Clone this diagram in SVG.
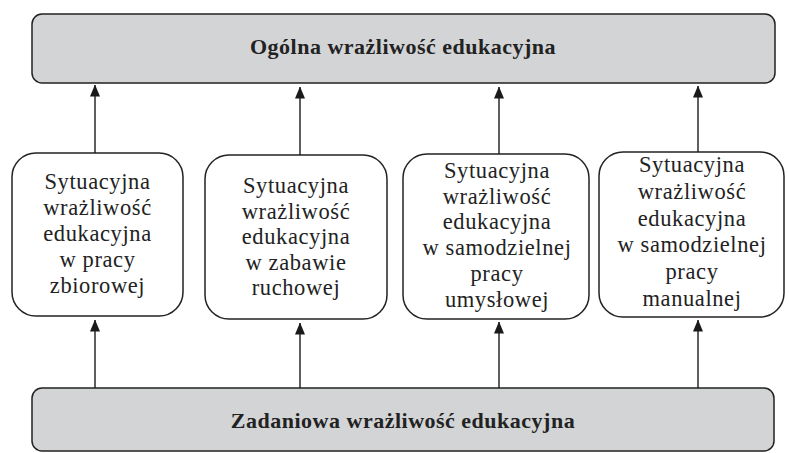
<svg xmlns="http://www.w3.org/2000/svg" width="789" height="453" viewBox="0 0 789 453">
<defs>
<marker id="ah" markerUnits="userSpaceOnUse" markerWidth="12" markerHeight="10" refX="11.5" refY="5" orient="auto" viewBox="0 0 12 10">
<path d="M0,0 L12,5 L0,10 z" fill="#1a1a1a"/>
</marker>
<style>
.main{fill:#d3d4d6;stroke:#222;stroke-width:1.5}
.sub{fill:#fff;stroke:#222;stroke-width:1.5}
.bt{font-family:'Liberation Serif','Times New Roman','DejaVu Serif',serif;font-weight:bold;font-size:22px;letter-spacing:0.5px;fill:#222;text-anchor:middle}
.t{font-family:'Liberation Serif','Times New Roman','DejaVu Serif',serif;font-size:22.5px;letter-spacing:0.6px;fill:#222;text-anchor:middle}
.c{stroke:#1a1a1a;stroke-width:1.4;fill:none;marker-end:url(#ah)}
</style>
</defs>
<rect width="789" height="453" fill="#fff"/>
<g id="top">
<rect class="main" x="32" y="14" width="743" height="69" rx="10"/>
<text class="bt" x="403" y="54" font-family="Liberation Serif, serif">Ogólna wrażliwość edukacyjna</text>
</g>
<g id="bottom">
<rect class="main" x="32" y="388" width="742" height="63" rx="10"/>
<text class="bt" x="403" y="428" font-family="Liberation Serif, serif">Zadaniowa wrażliwość edukacyjna</text>
</g>
<g id="n1">
<rect class="sub" x="12" y="153" width="171" height="163" rx="24"/>
<text class="t" x="97.5" font-family="Liberation Serif, serif"><tspan x="97.5" y="189">Sytuacyjna</tspan><tspan x="97.5" y="215">wrażliwość</tspan><tspan x="97.5" y="241">edukacyjna</tspan><tspan x="97.5" y="267">w pracy</tspan><tspan x="97.5" y="293">zbiorowej</tspan></text>
</g>
<g id="n2">
<rect class="sub" x="205" y="155" width="182" height="164" rx="24"/>
<text class="t" x="296" font-family="Liberation Serif, serif"><tspan x="296" y="193">Sytuacyjna</tspan><tspan x="296" y="218.5">wrażliwość</tspan><tspan x="296" y="244">edukacyjna</tspan><tspan x="296" y="269.5">w zabawie</tspan><tspan x="296" y="295">ruchowej</tspan></text>
</g>
<g id="n3">
<rect class="sub" x="403" y="154" width="186" height="165" rx="24"/>
<text class="t" x="497" font-family="Liberation Serif, serif"><tspan x="497" y="178">Sytuacyjna</tspan><tspan x="497" y="203.5">wrażliwość</tspan><tspan x="497" y="229">edukacyjna</tspan><tspan x="497" y="255">w samodzielnej</tspan><tspan x="497" y="281">pracy</tspan><tspan x="497" y="307">umysłowej</tspan></text>
</g>
<g id="n4">
<rect class="sub" x="599" y="152" width="185" height="165" rx="24"/>
<text class="t" x="692" font-family="Liberation Serif, serif"><tspan x="692" y="172">Sytuacyjna</tspan><tspan x="692" y="199">wrażliwość</tspan><tspan x="692" y="226">edukacyjna</tspan><tspan x="692" y="252">w samodzielnej</tspan><tspan x="692" y="279">pracy</tspan><tspan x="692" y="306">manualnej</tspan></text>
</g>
<g id="connectors">
<line class="c" x1="95" y1="153" x2="95" y2="85"/>
<line class="c" x1="300" y1="155" x2="300" y2="87"/>
<line class="c" x1="499" y1="154" x2="499" y2="87"/>
<line class="c" x1="698" y1="152" x2="698" y2="86"/>
<line class="c" x1="95" y1="388" x2="95" y2="320"/>
<line class="c" x1="300" y1="388" x2="300" y2="323"/>
<line class="c" x1="499" y1="388" x2="499" y2="322"/>
<line class="c" x1="698" y1="388" x2="698" y2="320"/>
</g>
</svg>
